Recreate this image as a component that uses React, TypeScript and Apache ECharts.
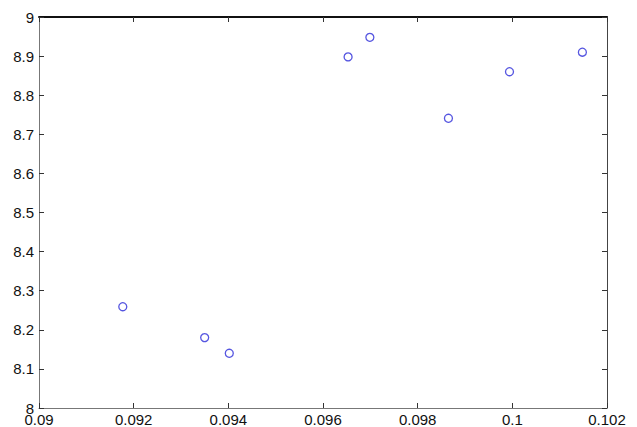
import React, { useEffect, useRef } from "react";
import * as echarts from "echarts";

const xValues = [0.09177, 0.0935, 0.09402, 0.09653, 0.09699, 0.09865, 0.09994, 0.10148];
const yValues = [8.259, 8.18, 8.14, 8.898, 8.948, 8.741, 8.86, 8.91];

const X_MIN = 0.09;
const X_MAX = 0.102;
const X_STEP = 0.002;
const Y_MIN = 8;
const Y_MAX = 9;
const Y_STEP = 0.1;

const FONT = "'Liberation Sans', Arial, sans-serif";

export default function App() {
  const ref = useRef<HTMLDivElement>(null);
  useEffect(() => {
    if (!ref.current) return;
    const chart = echarts.init(ref.current, undefined, { renderer: "svg" });
    const data = xValues.map((x, i) => [x, yValues[i]]);
    const xFmt = (v: number) => parseFloat(v.toFixed(3)).toString();
    const yFmt = (v: number) => parseFloat(v.toFixed(1)).toString();
    const baseX = {
      type: "value" as const,
      min: X_MIN,
      max: X_MAX,
      interval: X_STEP,
      splitLine: { show: false },
      axisTick: { show: true, inside: true, length: 5, lineStyle: { color: "#333", width: 1 } },
    };
    const baseY = {
      type: "value" as const,
      min: Y_MIN,
      max: Y_MAX,
      interval: Y_STEP,
      splitLine: { show: false },
      axisTick: { show: true, inside: true, length: 5, lineStyle: { color: "#333", width: 1 } },
    };
    chart.setOption({
      animation: false,
      backgroundColor: "#ffffff",
      grid: { left: 39, right: 30, top: 17, bottom: 19, containLabel: false },
      xAxis: [
        {
          ...baseX,
          position: "bottom",
          axisLine: { show: true, onZero: false, lineStyle: { color: "#777", width: 1 } },
          axisLabel: {
            show: true,
            formatter: xFmt,
            margin: 4,
            color: "#111",
            fontSize: 15,
            fontFamily: FONT,
            showMinLabel: true,
            showMaxLabel: true,
            hideOverlap: false,
          },
        },
        {
          ...baseX,
          position: "top",
          axisLine: { show: true, onZero: false, lineStyle: { color: "#111", width: 2 } },
          axisLabel: { show: false },
        },
      ],
      yAxis: [
        {
          ...baseY,
          position: "left",
          axisLine: { show: true, onZero: false, lineStyle: { color: "#777", width: 1 } },
          axisLabel: {
            show: true,
            formatter: yFmt,
            margin: 5,
            color: "#111",
            fontSize: 15,
            fontFamily: FONT,
            showMinLabel: true,
            showMaxLabel: true,
          },
        },
        {
          ...baseY,
          position: "right",
          axisLine: { show: true, onZero: false, lineStyle: { color: "#444", width: 1 } },
          axisLabel: { show: false },
        },
      ],
      series: [
        {
          type: "scatter",
          xAxisIndex: 0,
          yAxisIndex: 0,
          data,
          symbol: "circle",
          symbolSize: 8,
          itemStyle: { color: "rgba(0,0,0,0)", borderColor: "#2a2ad8", borderWidth: 1.3 },
        },
      ],
    });
    return () => chart.dispose();
  }, []);
  return (
    <div
      ref={ref}
      style={{ position: "fixed", left: 0, top: 0, width: 637, height: 427, background: "#fff" }}
    />
  );
}
